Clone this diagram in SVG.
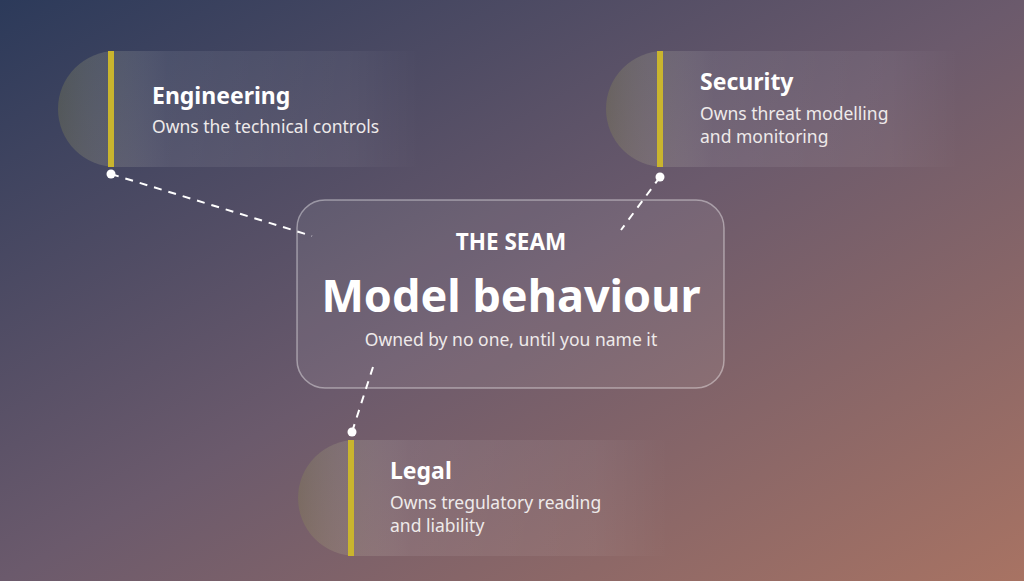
<svg xmlns="http://www.w3.org/2000/svg" width="1024" height="581" viewBox="0 0 1024 581">
<defs>
<linearGradient id="bg" x1="0" y1="0" x2="1" y2="1">
<stop offset="0" stop-color="#2c3a5a"/>
<stop offset="0.5" stop-color="#6b5a6c"/>
<stop offset="1" stop-color="#a87363"/>
</linearGradient>
<linearGradient id="card" x1="0" y1="0" x2="1" y2="0">
<stop offset="0" stop-color="#8a8a50" stop-opacity="0.3"/>
<stop offset="0.3" stop-color="#ffffff" stop-opacity="0.08"/>
<stop offset="0.8" stop-color="#ffffff" stop-opacity="0.05"/>
<stop offset="1" stop-color="#ffffff" stop-opacity="0"/>
</linearGradient>
<style>
.t{font-family:"Noto Sans","Open Sans",sans-serif;fill:#fff}
.h{font-size:23px;font-weight:700}
.s{font-size:17.5px;fill:#eeeaea}
.bar{fill:#c9b52e}
.ln{stroke:#fff;stroke-width:2;stroke-dasharray:8 7;fill:none}
</style>
</defs>
<rect width="1024" height="581" fill="url(#bg)"/>
<g id="connectors">
<line class="ln" x1="111" y1="174" x2="312" y2="236"/>
<line class="ln" x1="660" y1="177" x2="621" y2="230"/>
<line class="ln" x1="373" y1="367" x2="352" y2="432"/>
<circle cx="111" cy="174" r="4.5" fill="#fff"/>
<circle cx="660" cy="177" r="4.5" fill="#fff"/>
<circle cx="352" cy="432" r="4.5" fill="#fff"/>
</g>
<g id="center">
<rect x="297" y="200" width="427" height="188" rx="28" fill="#ffffff" fill-opacity="0.07" stroke="#ffffff" stroke-opacity="0.4" stroke-width="1.5"/>
<text class="t" x="511" y="250" text-anchor="middle" font-size="22.5" font-weight="700">THE SEAM</text>
<text class="t" x="511" y="312" text-anchor="middle" font-size="45" font-weight="700">Model behaviour</text>
<text class="t s" x="511" y="346" text-anchor="middle">Owned by no one, until you name it</text>
</g>
<g id="engineering">
<path d="M116 51 H420 V167 H116 A58 58 0 0 1 116 51 Z" fill="url(#card)"/>
<rect class="bar" x="108" y="51" width="6" height="116"/>
<text class="t h" x="152" y="104">Engineering</text>
<text class="t s" x="152" y="133">Owns the technical controls</text>
</g>
<g id="security">
<path d="M664 51 H960 V167 H664 A58 58 0 0 1 664 51 Z" fill="url(#card)"/>
<rect class="bar" x="657" y="51" width="6" height="116"/>
<text class="t h" x="700" y="90">Security</text>
<text class="t s" x="700" y="120">Owns threat modelling</text>
<text class="t s" x="700" y="143">and monitoring</text>
</g>
<g id="legal">
<path d="M356 440 H670 V556 H356 A58 58 0 0 1 356 440 Z" fill="url(#card)"/>
<rect class="bar" x="348" y="440" width="6" height="116"/>
<text class="t h" x="390" y="479">Legal</text>
<text class="t s" x="390" y="509">Owns tregulatory reading</text>
<text class="t s" x="390" y="532">and liability</text>
</g>
</svg>
